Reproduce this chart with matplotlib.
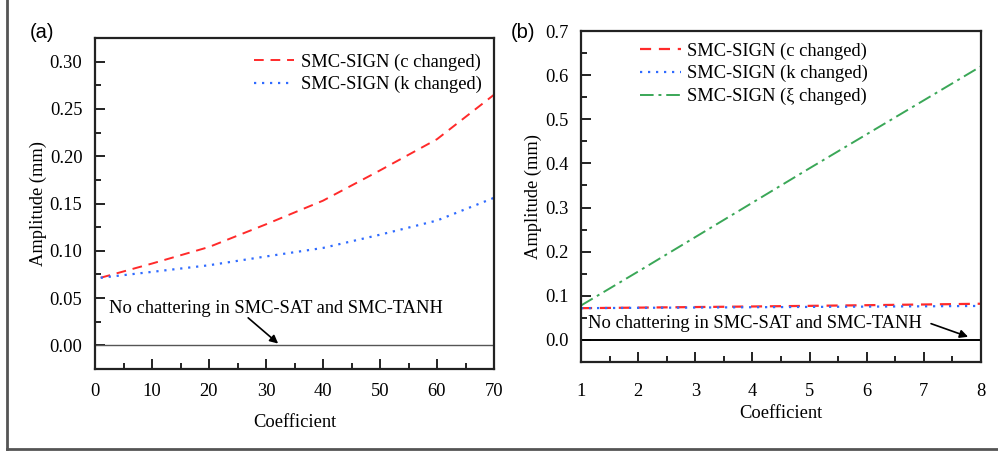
import numpy as np
import matplotlib
matplotlib.use('Agg')
import matplotlib.pyplot as plt
from matplotlib.ticker import MultipleLocator
from matplotlib.lines import Line2D

plt.rcParams['font.family'] = ['Liberation Serif', 'DejaVu Serif']
plt.rcParams['font.size'] = 13.3

# (a) amplitude vs coefficient
coef_a = [1, 10, 20, 30, 40, 50, 60, 70]
amp_c_a = [0.0715, 0.0865, 0.104, 0.128, 0.153, 0.185, 0.218, 0.265]
amp_k_a = [0.0715, 0.0777, 0.0847, 0.094, 0.103, 0.117, 0.132, 0.156]

# (b) amplitude vs coefficient
coef_b = [1, 2, 3, 4, 5, 6, 7, 8]
amp_c_b = [0.072, 0.0732, 0.0745, 0.0758, 0.0772, 0.0787, 0.0803, 0.082]
amp_k_b = [0.072, 0.0727, 0.0734, 0.0741, 0.0748, 0.0755, 0.0762, 0.077]
amp_xi_b = [0.078, 0.155, 0.233, 0.311, 0.389, 0.466, 0.543, 0.620]

labels = ['SMC-SIGN (c changed)', 'SMC-SIGN (k changed)', 'SMC-SIGN (\u03be changed)']
note = 'No chattering in SMC-SAT and SMC-TANH'

RED = '#ff2a2a'
BLUE = '#2f6bff'
GREEN = '#3aa757'
DASH = (0, (5, 3.5))
DOT = (0, (1, 2.6))
DASHDOT = (0, (7, 2.5, 1.5, 2.5))

W, H = 998, 451
fig = plt.figure(figsize=(W / 100, H / 100), dpi=100)


def px_axes(l, t, r, b):
    return fig.add_axes([l / W, 1 - b / H, (r - l) / W, (b - t) / H])


def style(ax, xpad):
    for s in ax.spines.values():
        s.set_linewidth(1.6)
        s.set_color('#222222')
    ax.tick_params(which='both', direction='in', top=False, right=False,
                   width=1.4, color='#222222')
    ax.tick_params(which='major', length=7)
    ax.tick_params(which='minor', length=4)
    ax.tick_params(axis='y', which='major', pad=9)
    ax.tick_params(axis='x', which='major', pad=xpad)


ax1 = px_axes(95, 38, 494, 369)
ax1.plot(coef_a, amp_c_a, color=RED, lw=1.4, linestyle=DASH, label=labels[0])
ax1.plot(coef_a, amp_k_a, color=BLUE, lw=1.6, linestyle=DOT, label=labels[1])
ax1.axhline(0, color='#555555', lw=1.0)
ax1.set_xlim(0, 70)
ax1.set_ylim(-0.025, 0.325)
ax1.xaxis.set_major_locator(MultipleLocator(10))
ax1.xaxis.set_minor_locator(MultipleLocator(5))
ax1.yaxis.set_major_locator(MultipleLocator(0.05))
ax1.yaxis.set_minor_locator(MultipleLocator(0.025))
ax1.yaxis.set_major_formatter(plt.FormatStrFormatter('%.2f'))
style(ax1, 10)
ax1.set_xlabel('Coefficient', labelpad=10)
ax1.set_ylabel('Amplitude (mm)', labelpad=2)
ax1.legend(loc='upper left', bbox_to_anchor=(0.365, 0.993), frameon=False,
           handlelength=2.2, handletextpad=0.35, labelspacing=0.3,
           borderpad=0.2)
ax1.annotate('', xy=(32.5, 0.0), xytext=(26.5, 0.031),
             arrowprops=dict(arrowstyle='-|>', color='black', lw=1.2,
                             mutation_scale=12))
ax1.text(2.5, 0.039, note, va='center', ha='left')

ax2 = px_axes(581, 31, 981, 362)
ax2.plot(coef_b, amp_c_b, color=RED, lw=1.6, linestyle=DASH, label=labels[0])
ax2.plot(coef_b, amp_k_b, color=BLUE, lw=1.6, linestyle=DOT, label=labels[1])
ax2.plot(coef_b, amp_xi_b, color=GREEN, lw=1.4, linestyle=DASHDOT, label=labels[2])
ax2.axhline(0, color='black', lw=1.4)
ax2.set_xlim(1, 8)
ax2.set_ylim(-0.05, 0.7)
ax2.xaxis.set_major_locator(MultipleLocator(1))
ax2.xaxis.set_minor_locator(MultipleLocator(0.5))
ax2.yaxis.set_major_locator(MultipleLocator(0.1))
ax2.yaxis.set_minor_locator(MultipleLocator(0.05))
ax2.yaxis.set_major_formatter(plt.FormatStrFormatter('%.1f'))
style(ax2, 15)
ax2.set_xlabel('Coefficient', labelpad=4)
ax2.set_ylabel('Amplitude (mm)', labelpad=2)
ax2.legend(loc='upper left', bbox_to_anchor=(0.115, 1.005), frameon=False,
           handlelength=2.2, handletextpad=0.35, labelspacing=0.3,
           borderpad=0.2)
ax2.annotate('', xy=(7.82, 0.005), xytext=(7.08, 0.039),
             arrowprops=dict(arrowstyle='-|>', color='black', lw=1.2,
                             mutation_scale=12))
ax2.text(1.12, 0.038, note, va='center', ha='left')

# panel tags
fig.text(30 / W, 1 - 33 / H, '(a)', family='Liberation Sans', fontsize=14.5, va='center')
fig.text(511 / W, 1 - 33 / H, '(b)', family='Liberation Sans', fontsize=14.5, va='center')

# outer frame (left and bottom edges)
fig.add_artist(Line2D([7 / W, 7 / W], [2.5 / H, 1], transform=fig.transFigure,
                      color='#555555', lw=2))
fig.add_artist(Line2D([7 / W, 1], [2.5 / H, 2.5 / H], transform=fig.transFigure,
                      color='#555555', lw=2))

fig.savefig('out.png', dpi=100)
